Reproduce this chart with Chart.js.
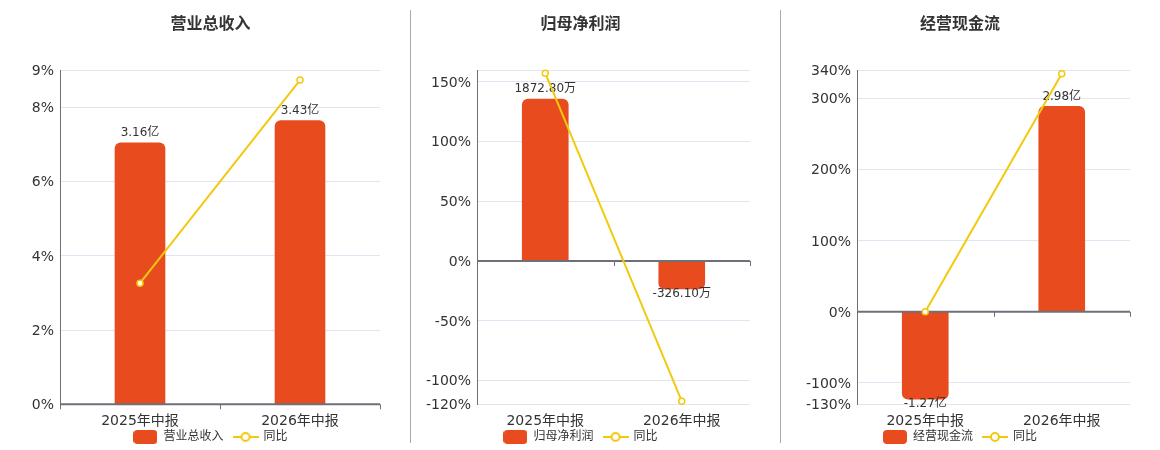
<!DOCTYPE html>
<html><head><meta charset="utf-8">
<script src="https://cdn.jsdelivr.net/npm/chart.js@4.4.1/dist/chart.umd.min.js"></script>
<style>
html,body{margin:0;padding:0;background:#fff;width:1160px;height:450px;overflow:hidden;}
.panel{position:absolute;top:0;}
.sep{position:absolute;top:10px;height:433px;width:1px;background:#aaa;}
</style></head><body>
<div class="panel" style="left:0px"><canvas id="c1" width="410" height="453"></canvas></div>
<div class="sep" style="left:410px"></div>
<div class="panel" style="left:411px"><canvas id="c2" width="369" height="453"></canvas></div>
<div class="sep" style="left:780px"></div>
<div class="panel" style="left:781px"><canvas id="c3" width="379" height="453"></canvas></div>
<script>
// ---- data ----
const categories = ['2025年中报', '2026年中报'];

const revenueTitle = '营业总收入';
const revenueValues = [3.16, 3.43];      // 亿
const revenueYoY = [3.26, 8.73];         // %
const revenueTicks = [0, 2, 4, 6, 8, 9];

const profitTitle = '归母净利润';
const profitValues = [1872.80, -326.10]; // 万
const profitYoY = [157.3, -117.41];      // %
const profitTicks = [-120, -100, -50, 0, 50, 100, 150];

const cashTitle = '经营现金流';
const cashValues = [-1.27, 2.98];        // 亿
const cashYoY = [0, 334.6];              // %
const cashTicks = [-130, -100, 0, 100, 200, 300, 340];

const yoyLabel = '同比';

// ---- style ----
const barColor = '#E84C1E';
const lineColor = '#F3C90F';
const textColor = '#333333';
const axisColor = '#6E7079';
const gridColor = '#E0E6F1';

Chart.defaults.font.family = "'DejaVu Sans', 'Noto Sans CJK SC', sans-serif";
Chart.defaults.color = textColor;

function makeBarImg() {
  const c = document.createElement('canvas');
  c.width = 24; c.height = 14;
  const g = c.getContext('2d');
  g.fillStyle = barColor;
  g.beginPath();
  g.roundRect(0, 0, 24, 14, 4);
  g.fill();
  return c;
}
function makeLineImg() {
  const c = document.createElement('canvas');
  c.width = 26; c.height = 12;
  const g = c.getContext('2d');
  g.strokeStyle = lineColor;
  g.lineWidth = 2;
  g.beginPath(); g.moveTo(0, 6); g.lineTo(26, 6); g.stroke();
  g.beginPath(); g.arc(13, 6, 4, 0, Math.PI * 2);
  g.fillStyle = '#fff'; g.fill(); g.stroke();
  return c;
}
const barImg = makeBarImg();
const lineImg = makeLineImg();

// let axis labels extend beyond their fitted boxes (avoid label clipping)
const widenLabelArea = {
  id: 'widenLabelArea',
  afterLayout(chart) {
    chart.scales.y.left = 0;
    chart.scales.x.bottom = chart.height;
  }
};

const barOverlay = {
  id: 'barOverlay',
  afterDatasetDraw(chart, args) {
    if (args.index !== 0) return;
    const {ctx, chartArea, scales} = chart;
    const xs = scales.x;
    const y0 = scales.y.getPixelForValue(0);
    const n = chart.data.labels.length;
    const pts = [chartArea.left];
    for (let i = 0; i < n - 1; i++) pts.push((xs.getPixelForTick(i) + xs.getPixelForTick(i + 1)) / 2);
    pts.push(chartArea.right);
    ctx.save();
    ctx.strokeStyle = axisColor;
    ctx.lineWidth = 1;
    pts.forEach(px => {
      const x = Math.round(px) + 0.5;
      ctx.beginPath(); ctx.moveTo(x, y0); ctx.lineTo(x, y0 + 5); ctx.stroke();
    });
    ctx.lineWidth = 2;
    ctx.beginPath(); ctx.moveTo(chartArea.left, y0); ctx.lineTo(chartArea.right, y0); ctx.stroke();
    // value labels
    const ds = chart.data.datasets[0];
    const unit = chart.options.plugins.barOverlay.unit;
    ctx.fillStyle = textColor;
    ctx.font = "12px 'DejaVu Sans', 'Noto Sans CJK SC', sans-serif";
    ctx.textAlign = 'center';
    ctx.textBaseline = 'middle';
    args.meta.data.forEach((el, i) => {
      const v = ds.data[i];
      const txt = v.toFixed(2) + unit;
      if (v >= 0) ctx.fillText(txt, el.x, el.y - 10);
      else ctx.fillText(txt, el.x, el.y + 5);
    });
    ctx.restore();
  }
};

function makeChart(id, opt) {
  const tickVals = opt.ticks.slice();
  if (!tickVals.includes(opt.yMax)) tickVals.push(opt.yMax);
  if (!tickVals.includes(opt.yMin)) tickVals.unshift(opt.yMin);
  return new Chart(document.getElementById(id), {
    type: 'bar',
    data: {
      labels: categories,
      datasets: [
        {
          type: 'bar', label: opt.title, data: opt.values, yAxisID: 'y1',
          backgroundColor: barColor, borderRadius: 6, borderSkipped: 'start',
          barThickness: opt.barThickness, order: 1
        },
        {
          type: 'line', label: yoyLabel, data: opt.yoy, yAxisID: 'y',
          borderColor: lineColor, borderWidth: 2, tension: 0,
          pointRadius: 3, pointBackgroundColor: '#fff', pointBorderColor: lineColor,
          pointBorderWidth: 1.5, order: 0, clip: false
        }
      ]
    },
    options: {
      responsive: false,
      animation: false,
      layout: {padding: {left: opt.padLeft, right: 30, top: 0, bottom: 0}},
      scales: {
        x: {
          type: 'category', offset: true,
          grid: {display: false, drawTicks: false},
          border: {display: false},
          ticks: {padding: 9, font: {size: 14}, color: textColor, maxRotation: 0, autoSkip: false},
          afterFit: s => { s.height = 16.7; }
        },
        y: {
          position: 'left', min: opt.yMin, max: opt.yMax,
          afterBuildTicks: s => { s.ticks = tickVals.map(v => ({value: v})); },
          ticks: {
            autoSkip: false, padding: 6, font: {size: 14}, color: textColor, labelOffset: 1.2,
            callback: v => opt.ticks.includes(v) ? v + '%' : ''
          },
          grid: {
            drawTicks: false, lineWidth: 1,
            color: c => (c.tick && c.tick.value === 0) ? 'rgba(0,0,0,0)' : gridColor
          },
          border: {display: true, color: axisColor, width: 1},
          afterFit: s => { s.width = opt.axisWidth; }
        },
        y1: {display: false, min: opt.barMin, max: opt.barMax}
      },
      plugins: {
        tooltip: {enabled: false},
        title: {
          display: true, text: opt.title, color: textColor,
          font: {size: 16, weight: 'bold'},
          padding: {top: 14.9, bottom: 35.9}
        },
        legend: {
          position: 'bottom',
          labels: {
            usePointStyle: true, pointStyleWidth: 24, padding: 10,
            color: textColor, font: {size: 12},
            generateLabels: () => [
              {text: opt.title, pointStyle: barImg, fillStyle: barColor, strokeStyle: barColor, lineWidth: 0, hidden: false, datasetIndex: 0, fontColor: textColor},
              {text: yoyLabel, pointStyle: lineImg, fillStyle: '#fff', strokeStyle: lineColor, lineWidth: 0, hidden: false, datasetIndex: 1, fontColor: textColor}
            ]
          }
        },
        barOverlay: {unit: opt.unit}
      }
    },
    plugins: [widenLabelArea, barOverlay]
  });
}

makeChart('c1', {
  title: revenueTitle, values: revenueValues, yoy: revenueYoY, ticks: revenueTicks, unit: '亿',
  yMin: 0, yMax: 9, barMin: 0, barMax: 4.04, padLeft: 41, axisWidth: 19, barThickness: 50
});
makeChart('c2', {
  title: profitTitle, values: profitValues, yoy: profitYoY, ticks: profitTicks, unit: '万',
  yMin: -120, yMax: 160, barMin: -1663, barMax: 2209, padLeft: 0, axisWidth: 66, barThickness: 46
});
makeChart('c3', {
  title: cashTitle, values: cashValues, yoy: cashYoY, ticks: cashTicks, unit: '亿',
  yMin: -130, yMax: 340, barMin: -1.344, barMax: 3.508, padLeft: 9, axisWidth: 67, barThickness: 46
});
</script>
</body></html>
